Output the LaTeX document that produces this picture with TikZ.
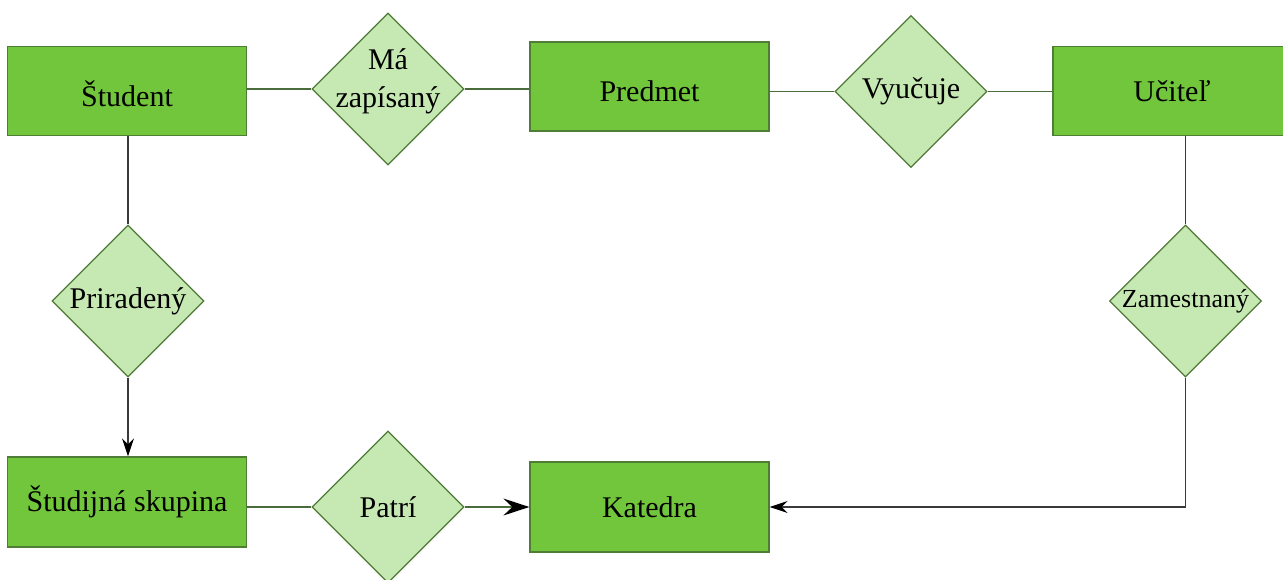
\documentclass[tikz,border=0pt]{standalone}
\usepackage{fontspec}
\setmainfont{Liberation Serif}
\usetikzlibrary{shapes.geometric,arrows.meta}
\definecolor{entfill}{HTML}{71C63B}
\definecolor{entdraw}{HTML}{4F7D35}
\definecolor{relfill}{HTML}{C6E8B2}
\definecolor{reldraw}{HTML}{4E7A36}
\definecolor{linkgreen}{HTML}{4A6B3A}
\definecolor{linkgrey}{HTML}{3A3A3A}
\tikzset{
  entity/.style={rectangle, draw=entdraw, fill=entfill, line width=1.3pt,
    minimum width=239pt, minimum height=89pt, inner sep=0pt,
    font=\fontsize{30}{36}\selectfont},
  relation/.style={diamond, draw=reldraw, fill=relfill, line width=1.3pt,
    minimum width=152pt, minimum height=152pt, inner sep=0pt, aspect=1,
    font=\fontsize{30}{36}\selectfont},
  caption/.style={font=\fontsize{30}{38}\selectfont, align=center},
  hlink/.style={draw=linkgreen, line width=1.4pt},
  vlink/.style={draw=linkgrey, line width=1.4pt},
  bigtip/.style={-{Stealth[length=26pt, width=17pt, inset=9pt, color=black]}},
  smalltip/.style={-{Stealth[length=18pt, width=12pt, inset=6pt, color=black]}}
}
\begin{document}
\begin{tikzpicture}[x=1pt, y=-1pt]
  \useasboundingbox (0,0) rectangle (1283,579);
  \begin{scope}
    \clip (0,0) rectangle (1283,579);
    % entities
    \node[entity, label={[caption, yshift=-3pt]center:Študent}] (st) at (127,91) {};
    \node[entity, label={[caption, yshift=-5pt]center:Predmet}] (pr) at (649.5,86.5) {};
    \node[entity, minimum width=238pt] (uc) at (1172,91) {Učiteľ};
    \node[entity, minimum height=90pt] (sk) at (127,502) {Študijná skupina};
    \node[entity, minimum height=90pt] (ka) at (649.5,507) {Katedra};
    % relationships
    \node[relation, label={[caption, yshift=8pt]center:Má\\zapísaný}] (ma) at (388,89) {};
    \node[relation] (vy) at (911,91.5) {Vyučuje};
    \node[relation] (pd) at (128,301) {Priradený};
    \node[relation, font=\fontsize{26}{30}\selectfont] (za) at (1185.5,301) {Zamestnaný};
    \node[relation] (pa) at (388,507) {Patrí};
    % connectors
    \draw[hlink] (ma.west -| st.east) -- (ma.west);
    \draw[hlink] (ma.east) -- (ma.east -| pr.west);
    \draw[hlink] (vy.west -| pr.east) -- (vy.west);
    \draw[hlink] (vy.east) -- (vy.east -| uc.west);
    \draw[vlink] (pd.north |- st.south) -- (pd.north);
    \draw[vlink, smalltip] (pd.south) -- (pd.south |- sk.north);
    \draw[vlink] (za.north |- uc.south) -- (za.north);
    \draw[vlink, smalltip] (za.south) |- (ka.east);
    \draw[hlink] (pa.west -| sk.east) -- (pa.west);
    \draw[hlink, bigtip] (pa.east) -- (ka.west);
  \end{scope}
\end{tikzpicture}
\end{document}
